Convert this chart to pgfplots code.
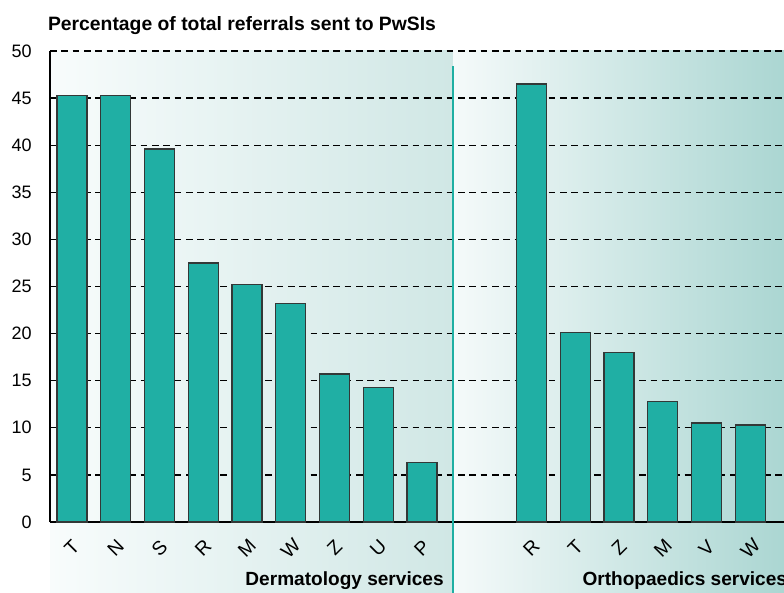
\documentclass[border=0pt]{standalone}
\usepackage{pgfplots}
\pgfplotsset{compat=1.18}
\usepackage{fontspec}
\setmainfont{Liberation Sans}
\definecolor{barteal}{HTML}{20AFA4}
\definecolor{baredge}{HTML}{333837}
\definecolor{bgLa}{HTML}{F8FCFC}
\definecolor{bgLb}{HTML}{D0E7E5}
\definecolor{bgRa}{HTML}{F5FAFA}
\definecolor{bgRb}{HTML}{ABD6D2}
\definecolor{septeal}{HTML}{1FAFA3}
\begin{document}
\begin{tikzpicture}
\path[use as bounding box] (0,0) rectangle (588pt,444pt);
\clip (0,0) rectangle (588pt,444pt);
\shade[left color=bgLa, right color=bgLb] (37.5pt,0) rectangle (339.75pt,405.75pt);
\shade[left color=bgRa, right color=bgRb] (339.75pt,0) rectangle (588pt,405.75pt);
\begin{axis}[
  at={(37.5pt,52.5pt)}, anchor=south west,
  scale only axis, width=550.5pt, height=353.25pt,
  xmin=-0.5, xmax=16.27, ymin=0, ymax=50,
  clip=false,
  axis x line*=bottom, axis y line*=left,
  axis line style={-, line width=1.6pt, black},
  ytick={0,5,...,50},
  xtick={0,1,2,3,4,5,6,7,8,10.5,11.5,12.5,13.5,14.5,15.5},
  xticklabels={T,N,S,R,M,W,Z,U,P,R,T,Z,M,V,W},
  major tick length=0pt,
  tick style={draw=none},
  /pgf/number format/assume math mode=true,
  yticklabel style={font=\fontsize{13.5}{16}\selectfont, anchor=east, inner sep=0pt, xshift=-13.5pt},
  xticklabel style={font=\fontsize{14.5}{16}\selectfont, anchor=center, inner sep=0pt, rotate=45},
  xticklabel shift=19.5pt,
  ymajorgrids,
  grid style={black, line width=1pt, dash pattern=on 5pt off 3.5pt},
  ybar, bar width=22.5pt,
]
\addplot[fill=barteal, draw=baredge, line width=1pt] coordinates {
  (0,45.3) (1,45.3) (2,39.6) (3,27.5) (4,25.2) (5,23.2) (6,15.7) (7,14.3) (8,6.3)
  (10.5,46.5) (11.5,20.1) (12.5,18.0) (13.5,12.8) (14.5,10.5) (15.5,10.3)
};
\draw[septeal, line width=1.5pt] (axis cs:8.71,48.4) -- (axis cs:8.71,-8);
\node[anchor=base west, font=\bfseries\fontsize{14.5}{17}\selectfont, inner sep=0pt] at (axis cs:-0.55,52.2) {Percentage of total referrals sent to PwSIs};
\node[anchor=base east, font=\bfseries\fontsize{14.3}{17}\selectfont, inner sep=0pt] at (axis cs:8.5,-6.69) {Dermatology services};
\node[anchor=base west, font=\bfseries\fontsize{14.3}{17}\selectfont, inner sep=0pt] at (axis cs:11.66,-6.69) {Orthopaedics services};
\end{axis}
\end{tikzpicture}
\end{document}
